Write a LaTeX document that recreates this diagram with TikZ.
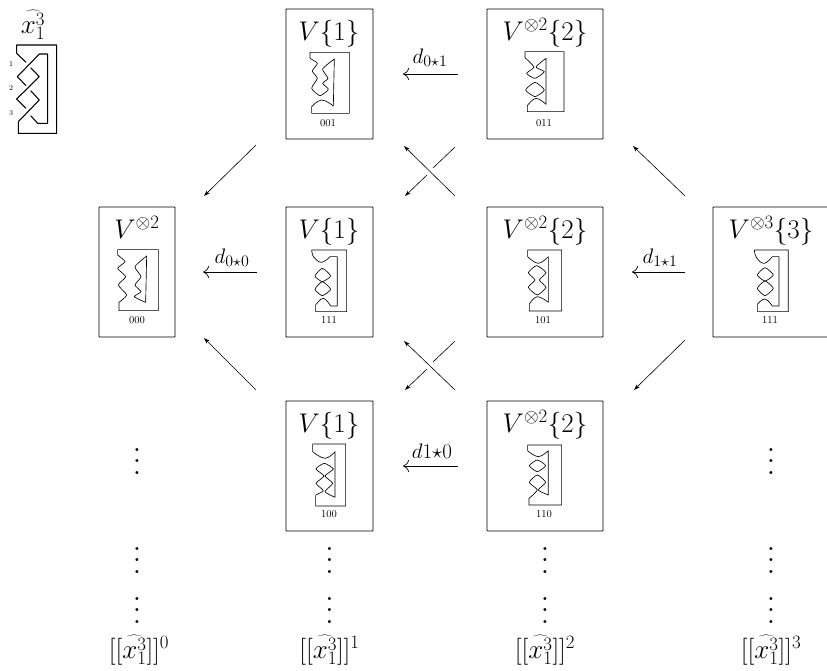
\documentclass[tikz,border=0pt]{standalone}
\usepackage{fix-cm}
\usetikzlibrary{arrows.meta}
\DeclareMathSizes{21}{21}{16}{12}
\newcommand{\bigf}{\fontsize{27}{29}\selectfont}
\newcommand{\midf}{\fontsize{27}{29}\selectfont}
\newcommand{\lblf}{\fontsize{21}{23}\selectfont}
\newcommand{\tinyf}{\fontsize{10.5}{12}\selectfont}
\tikzset{
  statebox/.style={draw,line width=0.8pt,rounded corners=0.5pt,inner sep=0pt,minimum height=130pt},
  title/.style={anchor=base,inner sep=0pt,font=\bigf},
  code/.style={anchor=base,inner sep=0pt,font=\tinyf},
  degree/.style={anchor=base,inner sep=0pt,font=\midf},
  dlabel/.style={anchor=base,inner sep=0pt,font=\lblf},
  vd/.style={inner sep=0pt},
  crossnum/.style={inner sep=0pt,font=\fontsize{7.5}{8}\selectfont},
  knotline/.style={line width=0.65pt,line join=round},
  knotthick/.style={line width=1.05pt,line join=round},
  hmap/.style={line width=0.7pt,-{Computer Modern Rightarrow[length=6pt,width=12pt]}},
  dmap/.style={line width=0.6pt,-{Stealth[length=6pt,width=4pt]}},
  plainseg/.style={line width=0.6pt},
  wig/.style={smooth,tension=0.35},
  arc3/.style={smooth,tension=0.7}
}
\newcommand{\vd}{\scalebox{2.8}{$\vdots$}}
\begin{document}
\begin{tikzpicture}[x=1pt,y=-1pt]
\clip (0,0) rectangle (827,670);
\useasboundingbox (0,0) rectangle (827,670);

% boxes
\node[statebox,minimum width=87pt] (b001) at (329.5,74) {};
\node[statebox,minimum width=116pt] (b011) at (545,74) {};
\node[statebox,minimum width=76pt] (b000) at (137,272) {};
\node[statebox,minimum width=87pt] (b010) at (329.5,272) {};
\node[statebox,minimum width=116pt] (b101) at (545,272) {};
\node[statebox,minimum width=116pt] (b111) at (771,272) {};
\node[statebox,minimum width=87pt] (b100) at (329.5,466) {};
\node[statebox,minimum width=116pt] (b110) at (545,466) {};

% titles
\node[title] (t001) at (329,40) {$V\{1\}$};
\node[title] (t011) at (545,40) {$V^{\otimes 2}\{2\}$};
\node[title] (t000) at (137,238) {$V^{\otimes 2}$};
\node[title] (t010) at (329,238) {$V\{1\}$};
\node[title] (t101) at (545,238) {$V^{\otimes 2}\{2\}$};
\node[title] (t111) at (771,238) {$V^{\otimes 3}\{3\}$};
\node[title] (t100) at (329,432) {$V\{1\}$};
\node[title] (t110) at (545,432) {$V^{\otimes 2}\{2\}$};

% codes
\node[code] (c001) at (328,126) {001};
\node[code] (c011) at (544,126) {011};
\node[code] (c000) at (137,323) {000};
\node[code] (c010) at (329,323) {111};
\node[code] (c101) at (543,323) {101};
\node[code] (c111) at (770,323) {111};
\node[code] (c100) at (329,517) {100};
\node[code] (c110) at (544,517) {110};

% horizontal maps
\coordinate (h1s) at (458,74); \coordinate (h1e) at (403,74);
\coordinate (h2s) at (257,272); \coordinate (h2e) at (203,272);
\coordinate (h3s) at (685,272); \coordinate (h3e) at (632,272);
\coordinate (h4s) at (458,466); \coordinate (h4e) at (403,466);
\draw[hmap] (h1s) -- (h1e);
\draw[hmap] (h2s) -- (h2e);
\draw[hmap] (h3s) -- (h3e);
\draw[hmap] (h4s) -- (h4e);
\node[dlabel] (l1) at (430,63) {$d_{0\star 1}$};
\node[dlabel] (l2) at (232,263) {$d_{0\star 0}$};
\node[dlabel] (l3) at (660,263) {$d_{1\star 1}$};
\node[dlabel] (l4) at (432,458) {$d1{\star}0$};

% diagonal maps
\coordinate (a1s) at (256,145); \coordinate (a1e) at (204,196);
\coordinate (a2s) at (685,196); \coordinate (a2e) at (633,146);
\coordinate (a3s) at (256,390); \coordinate (a3e) at (204,338);
\coordinate (a4s) at (685,340); \coordinate (a4e) at (634,390);
\draw[dmap] (a1s) -- (a1e);
\draw[dmap] (a2s) -- (a2e);
\draw[dmap] (a3s) -- (a3e);
\draw[dmap] (a4s) -- (a4e);
% upper crossing
\coordinate (x1a) at (455,196); \coordinate (x1b) at (404,146);
\coordinate (x1c) at (455,147); \coordinate (x1d) at (433,168);
\coordinate (x1f) at (427,175); \coordinate (x1g) at (405,196);
\draw[dmap] (x1a) -- (x1b);
\draw[plainseg] (x1c) -- (x1d);
\draw[dmap] (x1f) -- (x1g);
% lower crossing
\coordinate (x2a) at (455,390); \coordinate (x2b) at (404,341);
\coordinate (x2c) at (455,341); \coordinate (x2d) at (433,362);
\coordinate (x2f) at (427,369); \coordinate (x2g) at (405,390);
\draw[dmap] (x2a) -- (x2b);
\draw[plainseg] (x2c) -- (x2d);
\draw[dmap] (x2f) -- (x2g);

% dots
\foreach \n/\cx in {a/137,b/329.5,c/545,d/771}{
  \node[vd] (dl\n) at (\cx,552) {\vd};
  \node[vd] (du\n) at (\cx,602) {\vd};
}
\node[vd] (dt0) at (137,453) {\vd};
\node[vd] (dt3) at (771,453) {\vd};

% degrees
\node[degree] (d0) at (139,658) {$[[\widehat{x_1^3}]]^0$};
\node[degree] (d1) at (329.5,658) {$[[\widehat{x_1^3}]]^1$};
\node[degree] (d2) at (545,658) {$[[\widehat{x_1^3}]]^2$};
\node[degree] (d3) at (771,658) {$[[\widehat{x_1^3}]]^3$};

% top-left knot
\node[degree] (kn) at (33,33) {$\widehat{x_1^3}$};
\node[crossnum] (k1) at (11,64) {1};
\node[crossnum] (k2) at (11,88) {2};
\node[crossnum] (k3) at (11,113) {3};
\begin{scope}[x=0.3333pt,y=-0.3333pt,knotthick]
\draw (78,187) -- (50,160) -- (50,135) -- (170,135) -- (170,400) -- (55,400) -- (55,365) -- (118,300) -- (92,272);
\draw (78,257) -- (52,230) -- (118,162) -- (143,162) -- (143,370) -- (113,370) -- (92,347);
\draw (78,325) -- (50,297) -- (118,230) -- (92,203);
\end{scope}

% 001
\begin{scope}[shift={(300,45)},x=0.3333pt,y=-0.3333pt,knotline]
\draw (30,40) -- (30,22) -- (148,22) -- (148,205) -- (35,205) -- (35,185)
  -- plot[arc3] coordinates {(35,185) (65,165) (100,183)}
  -- (103,42)
  -- plot[wig] coordinates {(103,42) (68,72) (84,100) (68,115) (85,133) (60,152) (35,130) (52,100) (37,78) (52,55) (30,40)};
\end{scope}

% 011
\begin{scope}[shift={(510,45)},x=0.3333pt,y=-0.3333pt,knotline]
\draw (45,38) -- (45,20) -- (162,20) -- (162,200) -- (52,200) -- (52,182)
  -- plot[arc3] coordinates {(52,182) (78,160) (108,178)}
  -- (108,40)
  -- plot[wig] coordinates {(108,40) (78,66) (103,80) (75,100) (50,85) (72,66) (45,38)};
\draw plot[smooth cycle,tension=0.35] coordinates {(75,112) (103,135) (75,155) (47,135)};
\end{scope}

% 000
\begin{scope}[shift={(105,245)},x=0.3333pt,y=-0.3333pt,knotline]
\draw (38,30) -- (38,14) -- (160,14) -- (160,197) -- (42,197) -- (42,172)
  -- plot[wig] coordinates {(42,172) (65,150) (40,120) (62,95) (38,70) (60,50) (38,30)};
\draw (122,172) -- (125,33)
  -- plot[wig] coordinates {(125,33) (90,65) (108,95) (90,120) (108,140) (88,155) (122,172)};
\end{scope}

% middle V{1}
\begin{scope}[shift={(90,200)},x=0.3333pt,y=-0.3333pt,knotline]
\draw (665,150) -- (770,150) -- (770,335) -- (677,335) -- (677,315)
  -- plot[arc3] coordinates {(677,315) (700,295) (722,318)}
  -- (742,318) -- (742,170) -- (720,170)
  -- plot[arc3] coordinates {(720,170) (695,187) (672,172) (665,150)};
\draw plot[smooth cycle,tension=0.35] coordinates {(697,205) (722,228) (697,245) (675,228)};
\draw plot[smooth cycle,tension=0.35] coordinates {(697,245) (722,268) (697,287) (675,268)};
\end{scope}

% 111 right and 101
\begin{scope}[shift={(480,200)},x=0.3333pt,y=-0.3333pt,knotline]
\draw (823,150) -- (925,150) -- (925,335) -- (833,335) -- (833,312)
  -- plot[arc3] coordinates {(833,312) (855,297) (877,318)}
  -- (897,318) -- (897,170) -- (877,170)
  -- plot[arc3] coordinates {(877,170) (853,190) (830,174) (823,150)};
\draw plot[smooth cycle,tension=0.35] coordinates {(855,203) (880,225) (855,243) (832,225)};
\draw plot[smooth cycle,tension=0.35] coordinates {(855,243) (880,265) (855,287) (832,265)};
\draw (143,170) -- (143,150) -- (245,150) -- (245,333) -- (148,333) -- (148,312)
  -- plot[arc3] coordinates {(148,312) (172,290) (205,307)}
  -- (205,170)
  -- plot[arc3] coordinates {(205,170) (175,190) (143,170)};
\draw plot[smooth cycle,tension=0.35] coordinates {(170,197) (198,218) (178,240) (198,262) (172,285) (145,262) (165,240) (145,218)};
\end{scope}

% 100 and 110
\begin{scope}[shift={(280,395)},x=0.3333pt,y=-0.3333pt,knotline]
\draw (98,170) -- (98,147) -- (197,147) -- (197,333) -- (107,333) -- (107,300)
  -- plot[wig] coordinates {(107,300) (130,287) (108,265) (132,243) (108,222) (133,205) (160,222) (135,243) (158,265) (135,290) (165,307)}
  -- (165,170)
  -- plot[arc3] coordinates {(165,170) (135,190) (98,170)};
\draw (743,167) -- (743,150) -- (845,150) -- (845,330) -- (747,330) -- (747,310)
  -- plot[wig] coordinates {(747,310) (772,285) (748,262) (772,240) (797,262) (775,285) (805,300)}
  -- (805,167)
  -- plot[arc3] coordinates {(805,167) (775,185) (743,167)};
\draw plot[smooth cycle,tension=0.35] coordinates {(772,195) (797,212) (772,230) (748,212)};
\end{scope}
\end{tikzpicture}
\end{document}
